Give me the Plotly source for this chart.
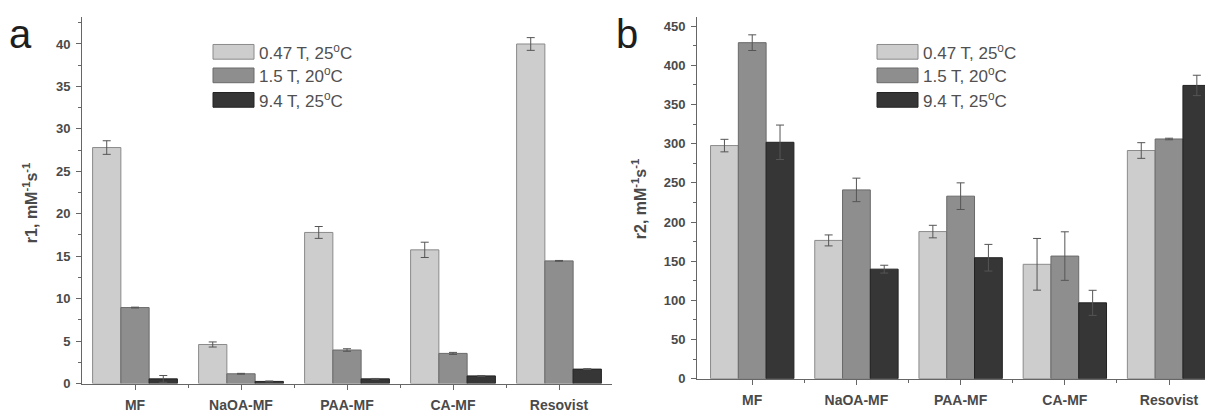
import plotly.graph_objects as go

# browser body has an 8px default margin: build the figure 8px smaller and
# express every layout position in reference-pixel coordinates
OFF = 8
W, H = 1213 - OFF, 419 - OFF

categories = ["MF", "NaOA-MF", "PAA-MF", "CA-MF", "Resovist"]
series_names = ["0.47 T, 25<sup>o</sup>C", "1.5 T, 20<sup>o</sup>C", "9.4 T, 25<sup>o</sup>C"]

# panel a : r1
r1_047 = [27.8, 4.6, 17.8, 15.75, 40.0]
r1_047_err = [0.8, 0.3, 0.7, 0.9, 0.75]
r1_15 = [8.95, 1.15, 3.95, 3.55, 14.45]
r1_15_err = [0.05, 0.05, 0.15, 0.12, 0.05]
r1_94 = [0.55, 0.25, 0.55, 0.9, 1.7]
r1_94_err = [0.4, 0.05, 0.05, 0.05, 0.05]

# panel b : r2
r2_047 = [297.6, 176.5, 187.8, 146, 291.3]
r2_047_err = [8, 7, 8, 33, 10]
r2_15 = [429, 241, 233, 156.5, 306]
r2_15_err = [10, 15, 17, 31, 1]
r2_94 = [301.8, 139.8, 154.4, 96.8, 374.4]
r2_94_err = [22, 5, 17, 16, 13]

fills = ["#cdcdcd", "#8e8e8e", "#363636"]
edges = ["#8a8a8a", "#6a6a6a", "#222222"]

xpos = list(range(len(categories)))

fig = go.Figure()
panel_a = [(r1_047, r1_047_err), (r1_15, r1_15_err), (r1_94, r1_94_err)]
panel_b = [(r2_047, r2_047_err), (r2_15, r2_15_err), (r2_94, r2_94_err)]
for i, (vals, errs) in enumerate(panel_a):
    fig.add_trace(go.Bar(x=xpos, y=vals, name=series_names[i], showlegend=False,
                         marker=dict(color=fills[i], line=dict(color=edges[i], width=1)),
                         error_y=dict(type="data", array=errs, color="#555555", thickness=1, width=4),
                         xaxis="x", yaxis="y", offsetgroup=str(i)))
for i, (vals, errs) in enumerate(panel_b):
    fig.add_trace(go.Bar(x=xpos, y=vals, name=series_names[i], showlegend=False,
                         marker=dict(color=fills[i], line=dict(color=edges[i], width=1)),
                         error_y=dict(type="data", array=errs, color="#555555", thickness=1, width=4),
                         xaxis="x2", yaxis="y2", offsetgroup=str(i)))

def px(x):
    return (x - OFF) / W

def py(y):
    return 1 - (y - OFF) / H

FAM = "Liberation Sans, Arial, sans-serif"
tickfont = dict(family=FAM, size=14, color="#4a4a4a", weight="bold")
titlefont = dict(family=FAM, size=16, color="#4a4a4a", weight="bold")
axcol = "#666666"

def xaxis_def(d0, d1, anchor, rng):
    return dict(domain=[d0, d1], anchor=anchor, range=rng, tickmode="array",
                tickvals=xpos, ticktext=categories,
                ticks="outside", ticklen=5, tickwidth=1, tickcolor=axcol,
                showline=True, linecolor=axcol, linewidth=1, showgrid=False, zeroline=False,
                tickfont=tickfont, ticklabelstandoff=4,
                minor=dict(tickvals=[x + 0.5 for x in xpos[:-1]], ticks="outside", ticklen=3,
                           tickcolor=axcol, tickwidth=1, showgrid=False))

def yaxis_def(d0, d1, anchor, rng, dtick):
    return dict(domain=[d0, d1], anchor=anchor, range=rng, dtick=dtick, tick0=0,
                ticks="outside", ticklen=5, tickwidth=1, tickcolor=axcol,
                showline=True, linecolor=axcol, linewidth=1, showgrid=False, zeroline=False,
                tickfont=dict(tickfont, size=13), ticklabelstandoff=3,
                minor=dict(dtick=dtick / 2, tick0=0, ticks="outside", ticklen=3,
                           tickcolor=axcol, tickwidth=1, showgrid=False))

fig.update_layout(
    width=W, height=H, margin=dict(l=0, r=0, t=0, b=0),
    paper_bgcolor="white", plot_bgcolor="white",
    barmode="group", bargap=0.2, bargroupgap=0,
    xaxis=xaxis_def(px(82), px(612), "y", [-0.5, 4.5]),
    yaxis=yaxis_def(py(391), py(17), "x", [0, 43.2], 5),
    xaxis2=xaxis_def(px(697), 1.0, "y2", [-0.53, 4 + (1213 - 1169) / 104.3]),
    yaxis2=yaxis_def(py(386), py(17), "x2", [0, 462], 50),
    font=dict(family=FAM),
)

shapes, annots = [], []
# manual legends (large swatches, as in the reference)
for lx in (213, 877):
    for i, yc in enumerate((52.7, 76.7, 101.7)):
        shapes.append(dict(type="rect", xref="paper", yref="paper",
                           x0=px(lx), x1=px(lx + 41), y0=py(yc + 7.5), y1=py(yc - 7.5),
                           fillcolor=fills[i], line=dict(color=edges[i], width=1)))
        annots.append(dict(text=series_names[i], xref="paper", yref="paper",
                           x=px(lx + 44), y=py(yc), xanchor="left", yanchor="middle",
                           showarrow=False,
                           font=dict(family=FAM, size=17, color="#505050")))

# y-axis titles
for txt, tx, ty in (("r1, mM<sup>-1</sup>s<sup>-1</sup>", 30, 207),
                    ("r2, mM<sup>-1</sup>s<sup>-1</sup>", 639, 203)):
    annots.append(dict(text=txt, xref="paper", yref="paper", x=px(tx), y=py(ty),
                       xanchor="center", yanchor="middle", textangle=-90, showarrow=False,
                       font=titlefont))

# panel letters
for lab, lx in (("a", 7), ("b", 614)):
    annots.append(dict(text=lab, xref="paper", yref="paper", x=px(lx), y=py(59),
                       xanchor="left", yanchor="bottom", showarrow=False,
                       font=dict(family=FAM, size=40, color="#1e1e1e")))

fig.update_layout(shapes=shapes, annotations=annots)
fig.write_html("out.html")
